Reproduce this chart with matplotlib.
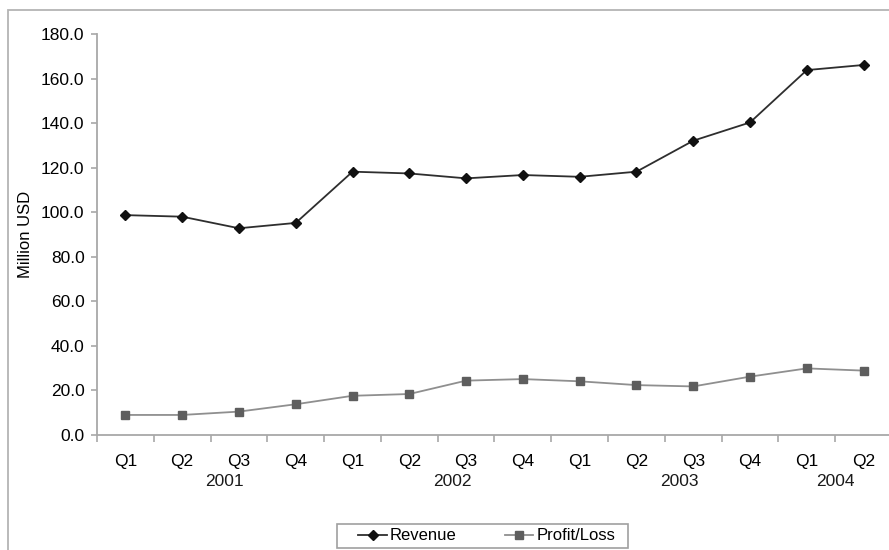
import matplotlib
matplotlib.use("Agg")
import matplotlib.pyplot as plt
from matplotlib.patches import Rectangle
from matplotlib.ticker import FixedLocator, FuncFormatter, NullFormatter
import matplotlib.transforms as mtransforms

plt.rcParams["font.family"] = ["Liberation Sans", "DejaVu Sans"]

quarters = ["Q1", "Q2", "Q3", "Q4",
            "Q1", "Q2", "Q3", "Q4",
            "Q1", "Q2", "Q3", "Q4",
            "Q1", "Q2"]
years = ["2001", "2002", "2003", "2004"]
year_label_pos = [1.75, 5.75, 9.75, 12.5]

revenue = [98.7, 98.0, 92.8, 95.2, 118.2, 117.4, 115.2, 116.7,
           115.9, 118.2, 132.1, 140.3, 163.8, 166.1]
profit = [9.0, 9.0, 10.5, 13.8, 17.6, 18.4, 24.4, 25.1,
          24.1, 22.4, 21.8, 26.2, 29.9, 28.9]

AXIS_GRAY = "#a8a8a8"
W, H = 889, 550

fig = plt.figure(figsize=(W / 100, H / 100), dpi=100, facecolor="white")

# chart-area frame, runs off the right and bottom edges of the canvas
fig.patches.append(Rectangle((8 / W, -0.05), 1.0, 1 - 10 / H + 0.05,
                             transform=fig.transFigure, fill=False,
                             edgecolor="#b4b4b4", linewidth=1.3))

ax = fig.add_axes([97 / W, 1 - 435 / H, 795 / W, 401 / H])

x = list(range(len(quarters)))
ax.plot(x, revenue, color="#2e2e2e", linewidth=1.3, marker="D",
        markersize=5.5, markerfacecolor="#111111", markeredgecolor="#111111",
        label="Revenue", zorder=3)
ax.plot(x, profit, color="#8f8f8f", linewidth=1.3, marker="s",
        markersize=5.5, markerfacecolor="#5e5e5e", markeredgecolor="#5e5e5e",
        label="Profit/Loss", zorder=3)

ax.set_xlim(-0.5, len(quarters) - 0.5)
ax.set_ylim(0, 180)
ax.set_yticks(range(0, 181, 20))
ax.yaxis.set_major_formatter(FuncFormatter(lambda v, _: f"{v:.1f}"))

# tick marks sit between categories, labels at category centres
ax.xaxis.set_major_locator(FixedLocator([i - 0.5 for i in range(len(quarters) + 1)]))
ax.xaxis.set_major_formatter(NullFormatter())
ax.xaxis.set_minor_locator(FixedLocator(x))
ax.set_xticklabels(quarters, minor=True)
ax.tick_params(axis="x", which="minor", length=0, pad=14, labelsize=12.5)
ax.tick_params(axis="x", which="major", length=5, width=1.2, color=AXIS_GRAY)
ax.tick_params(axis="y", length=4, width=1.2, color=AXIS_GRAY, labelsize=12.5, pad=5)

trans = mtransforms.blended_transform_factory(ax.transData, ax.transAxes)
for pos, yr in zip(year_label_pos, years):
    ax.text(pos, -0.117, yr, transform=trans, ha="center", va="center",
            fontsize=12.5, color="#1a1a1a")

for side in ("top", "right"):
    ax.spines[side].set_visible(False)
for side in ("left", "bottom"):
    ax.spines[side].set_color(AXIS_GRAY)
    ax.spines[side].set_linewidth(1.3)

ax.set_ylabel("Million USD", fontsize=12)
ax.yaxis.set_label_coords(-0.081, 0.5)

# legend box drawn separately so its padding can be set freely
fig.patches.append(Rectangle((337 / W, 1 - 548 / H), 291 / W, 24 / H,
                             transform=fig.transFigure, fill=False,
                             edgecolor="#a0a0a0", linewidth=1.2))
fig.legend(loc="center", bbox_to_anchor=(487 / W, 1 - 536 / H),
           ncol=2, fontsize=12, frameon=False,
           handlelength=1.7, handletextpad=0.2, columnspacing=2.9,
           borderpad=0.0)

fig.savefig("out.png", dpi=100, facecolor="white")
